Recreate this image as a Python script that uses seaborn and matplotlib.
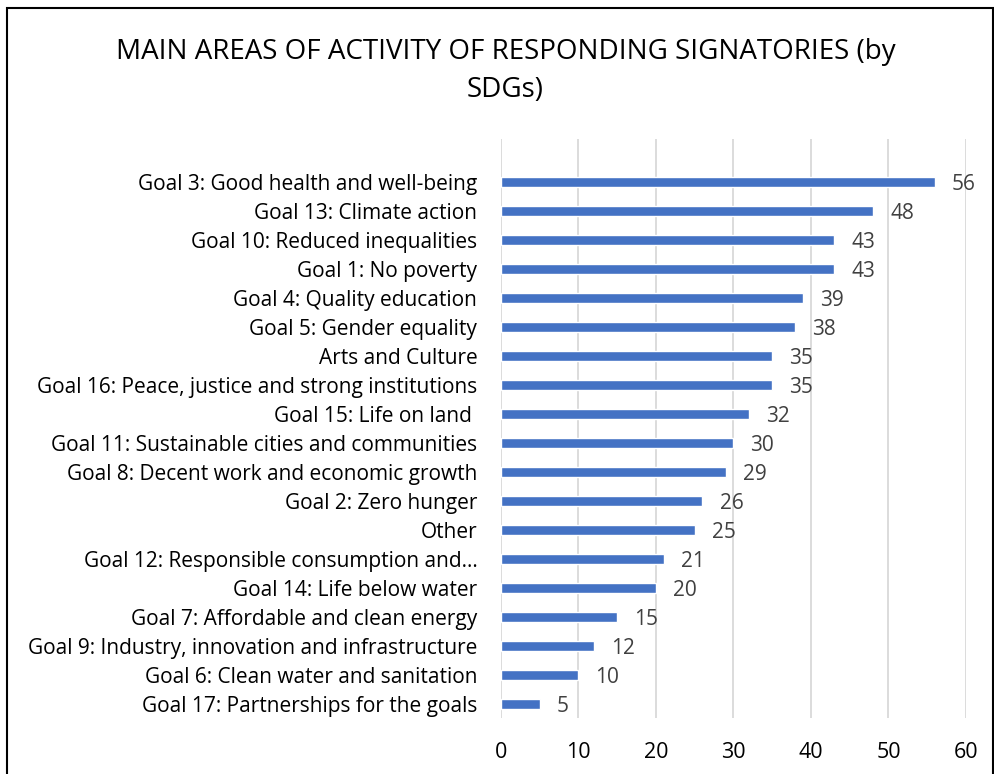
import pandas as pd
import matplotlib.pyplot as plt
import seaborn as sns
from matplotlib.patches import Rectangle

sns.set_style("white")
plt.rcParams['font.family'] = ['Open Sans', 'DejaVu Sans']

goals = [
    "Goal 3: Good health and well-being",
    "Goal 13: Climate action",
    "Goal 10: Reduced inequalities",
    "Goal 1: No poverty",
    "Goal 4: Quality education",
    "Goal 5: Gender equality",
    "Arts and Culture",
    "Goal 16: Peace, justice and strong institutions",
    "Goal 15: Life on land ",
    "Goal 11: Sustainable cities and communities",
    "Goal 8: Decent work and economic growth",
    "Goal 2: Zero hunger",
    "Other",
    "Goal 12: Responsible consumption and\u2026",
    "Goal 14: Life below water",
    "Goal 7: Affordable and clean energy",
    "Goal 9: Industry, innovation and infrastructure",
    "Goal 6: Clean water and sanitation",
    "Goal 17: Partnerships for the goals",
]
counts = [56, 48, 43, 43, 39, 38, 35, 35, 32, 30, 29, 26, 25, 21, 20, 15, 12, 10, 5]
x_ticks = [0, 10, 20, 30, 40, 50, 60]

df = pd.DataFrame({'goal': goals, 'count': counts})

fig = plt.figure(figsize=(9.95, 7.74), dpi=100)
ax = fig.add_axes([0.5035, 0.0724, 0.4673, 0.748])

sns.barplot(x='count', y='goal', data=df, color='#4472C4', saturation=1,
            width=0.35, ax=ax, zorder=3)

# value labels to the right of each bar
for i, v in enumerate(counts):
    ax.text(v + 2.2, i, str(v), va='center_baseline', ha='left', fontsize=15, color='#404040')

ax.set_xlim(0, 60)
ax.set_ylim(18.48, -1.48)
ax.set_xticks(x_ticks)
ax.set_xticklabels([str(t) for t in x_ticks], fontsize=15.5, color='black')
ax.tick_params(axis='y', labelsize=15, labelcolor='black', length=0, pad=17)
ax.tick_params(axis='x', length=0, pad=17)
ax.xaxis.grid(True, color='#D9D9D9', linewidth=1.3, zorder=0)
ax.yaxis.grid(False)
for s in ax.spines.values():
    s.set_visible(False)
ax.set_xlabel('')
ax.set_ylabel('')

fig.text(0.508, 0.933, "MAIN AREAS OF ACTIVITY OF RESPONDING SIGNATORIES (by",
         ha='center', va='center', fontsize=20, color='black')
fig.text(0.508, 0.884, "SDGs)", ha='center', va='center', fontsize=20, color='black')

# outer chart frame
fig.patches.append(Rectangle((0.007, -0.05), 0.991, 1.04, transform=fig.transFigure,
                             fill=False, edgecolor='black', linewidth=1.5))

fig.savefig('out.png', dpi=100)
